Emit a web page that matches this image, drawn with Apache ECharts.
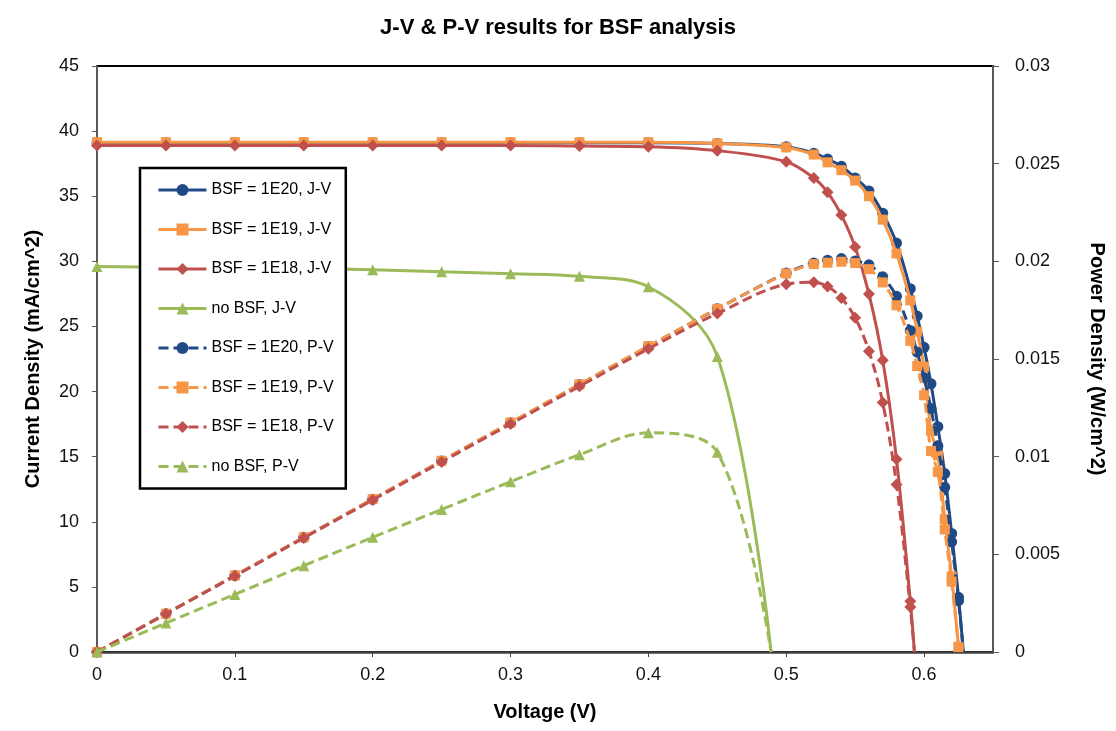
<!DOCTYPE html>
<html>
<head>
<meta charset="utf-8">
<script src="https://cdn.jsdelivr.net/npm/echarts@6/dist/echarts.min.js"></script>
<style>html,body{margin:0;padding:0;background:#fff;}#c{width:1116px;height:731px;}</style>
</head>
<body>
<div id="c"></div>
<script>
// ---- data ----
const seriesNames = ['BSF = 1E20, J-V','BSF = 1E19, J-V','BSF = 1E18, J-V','no BSF, J-V',
                     'BSF = 1E20, P-V','BSF = 1E19, P-V','BSF = 1E18, P-V','no BSF, P-V'];
const xTicks = [0, 0.1, 0.2, 0.3, 0.4, 0.5, 0.6];

const v1E20 = [0,0.05,0.1,0.15,0.2,0.25,0.3,0.35,0.4,0.45,0.5,0.52,0.53,0.54,0.55,0.56,0.57,0.58,0.59,0.595,0.6,0.605,0.61,0.615,0.62,0.625,0.6285];
const j1E20 = [39.1,39.1,39.1,39.1,39.1,39.1,39.1,39.1,39.1,39.05,38.8,38.3,37.85,37.3,36.4,35.4,33.7,31.4,27.9,25.8,23.4,20.6,17.3,13.7,9.1,4.2,0];
const p1E20 = [0,0.00196,0.00391,0.00587,0.00782,0.00978,0.01173,0.01369,0.01564,0.01757,0.0194,0.01992,0.02006,0.02014,0.02002,0.01982,0.01921,0.01821,0.01646,0.01535,0.01404,0.01246,0.01055,0.00843,0.00564,0.00263,0];

const v1E19 = [0,0.05,0.1,0.15,0.2,0.25,0.3,0.35,0.4,0.45,0.5,0.52,0.53,0.54,0.55,0.56,0.57,0.58,0.59,0.595,0.6,0.605,0.61,0.615,0.62,0.625];
const j1E19 = [39.15,39.15,39.15,39.15,39.15,39.15,39.15,39.15,39.15,39.05,38.75,38.2,37.6,37.0,36.2,35.0,33.2,30.6,27.0,24.6,21.9,17.0,15.1,10.2,5.8,0.4];
const p1E19 = [0,0.00196,0.00392,0.00587,0.00783,0.00979,0.01175,0.0137,0.01566,0.01757,0.01938,0.01986,0.01993,0.01998,0.01991,0.0196,0.01892,0.01775,0.01593,0.01464,0.01314,0.01029,0.00921,0.00627,0.0036,0.00025];

const v1E18 = [0,0.05,0.1,0.15,0.2,0.25,0.3,0.35,0.4,0.45,0.5,0.52,0.53,0.54,0.55,0.56,0.57,0.58,0.59,0.593];
const j1E18 = [38.9,38.9,38.9,38.9,38.9,38.9,38.9,38.85,38.8,38.5,37.65,36.4,35.3,33.55,31.1,27.5,22.4,14.8,3.9,0];
const p1E18 = [0,0.00195,0.00389,0.00584,0.00778,0.00973,0.01167,0.0136,0.01552,0.01733,0.01883,0.01893,0.01871,0.01812,0.01711,0.0154,0.01277,0.00858,0.0023,0];

const vNoBSF = [0,0.05,0.1,0.15,0.2,0.25,0.3,0.35,0.4,0.45,0.489];
const jNoBSF = [29.6,29.55,29.5,29.45,29.35,29.2,29.05,28.85,28.05,22.7,0];
const pNoBSF = [0,0.00148,0.00295,0.00442,0.00587,0.0073,0.00872,0.0101,0.01122,0.01022,0];

// ---- styling ----
const colors = ['#1F4A86','#F79646','#C0504D','#9BBB59'];
const symbols = ['circle','rect','diamond','triangle'];
const symSizes = [11,10,12,11];

function pairs(vs, ys) {
  return vs.map((v, i) => {
    const item = { value: [v, ys[i]] };
    if (i > 0 && ys[i] === 0) item.symbol = 'none';
    return item;
  });
}

const sets = [[v1E20,j1E20,p1E20],[v1E19,j1E19,p1E19],[v1E18,j1E18,p1E18],[vNoBSF,jNoBSF,pNoBSF]];
const series = [];
sets.forEach((s, k) => {
  series.push({
    name: seriesNames[k], type: 'line', yAxisIndex: 0, smooth: 0.35,
    data: pairs(s[0], s[1]), symbol: symbols[k], symbolSize: symSizes[k],
    lineStyle: { color: colors[k], width: 3 },
    itemStyle: { color: colors[k] }, z: 2 + k
  });
});
sets.forEach((s, k) => {
  series.push({
    name: seriesNames[4 + k], type: 'line', yAxisIndex: 1, smooth: 0.35,
    data: pairs(s[0], s[2]), symbol: symbols[k], symbolSize: symSizes[k],
    lineStyle: { color: colors[k], width: 3, type: [10, 5] },
    itemStyle: { color: colors[k] }, z: 6 + k
  });
});

const font = '"Liberation Sans", Arial, sans-serif';
const chart = echarts.init(document.getElementById('c'), null, { renderer: 'canvas' });
chart.setOption({
  animation: false,
  backgroundColor: '#fff',
  title: {
    text: 'J-V & P-V results for BSF analysis', left: 'center', top: 12,
    textStyle: { fontFamily: font, fontSize: 22, fontWeight: 'bold', color: '#000' }
  },
  grid: { left: 97, right: 123, top: 66, bottom: 79, show: true, borderColor: '#000', borderWidth: 2, backgroundColor: 'transparent' },
  legend: {
    data: seriesNames, orient: 'vertical', left: 140, top: 168, z: 50,
    backgroundColor: '#fff', borderColor: '#000', borderWidth: 2.5,
    padding: [14, 12, 14, 17], itemWidth: 48, itemHeight: 15, itemGap: 23.5,
    lineStyle: { width: 3 },
    textStyle: { fontFamily: font, fontSize: 16, color: '#000' }
  },
  xAxis: {
    type: 'value', min: 0, max: 0.65, interval: 0.1,
    name: 'Voltage (V)', nameLocation: 'middle', nameGap: 50,
    nameTextStyle: { fontFamily: font, fontSize: 20, fontWeight: 'bold', color: '#000' },
    axisLine: { lineStyle: { color: '#404040', width: 2.5 } },
    axisTick: { show: true, length: 5, lineStyle: { color: '#404040' } },
    axisLabel: { fontFamily: font, fontSize: 18, color: '#111', margin: 14, showMaxLabel: false,
      formatter: v => xTicks.indexOf(Math.round(v * 100) / 100) >= 0 ? String(Math.round(v * 100) / 100) : '' },
    splitLine: { show: false }
  },
  yAxis: [{
    type: 'value', min: 0, max: 45, interval: 5,
    name: 'Current Density (mA/cm^2)', nameLocation: 'middle', nameGap: 54,
    nameTextStyle: { fontFamily: font, fontSize: 20, fontWeight: 'bold', color: '#000' },
    axisLine: { show: true, lineStyle: { color: '#595959', width: 2 } },
    axisTick: { show: true, length: 5, lineStyle: { color: '#595959' } },
    axisLabel: { fontFamily: font, fontSize: 18, color: '#111', margin: 18 },
    splitLine: { show: false }
  }, {
    type: 'value', min: 0, max: 0.03, interval: 0.005, position: 'right',
    name: 'Power Density (W/cm^2)', nameLocation: 'middle', nameGap: 94, nameRotate: -90,
    nameTextStyle: { fontFamily: font, fontSize: 20, fontWeight: 'bold', color: '#000' },
    axisLine: { show: true, lineStyle: { color: '#595959', width: 2 } },
    axisTick: { show: true, length: 6, lineStyle: { color: '#595959' } },
    axisLabel: { fontFamily: font, fontSize: 18, color: '#111', margin: 22 },
    splitLine: { show: false }
  }],
  series: series
});
</script>
</body>
</html>
